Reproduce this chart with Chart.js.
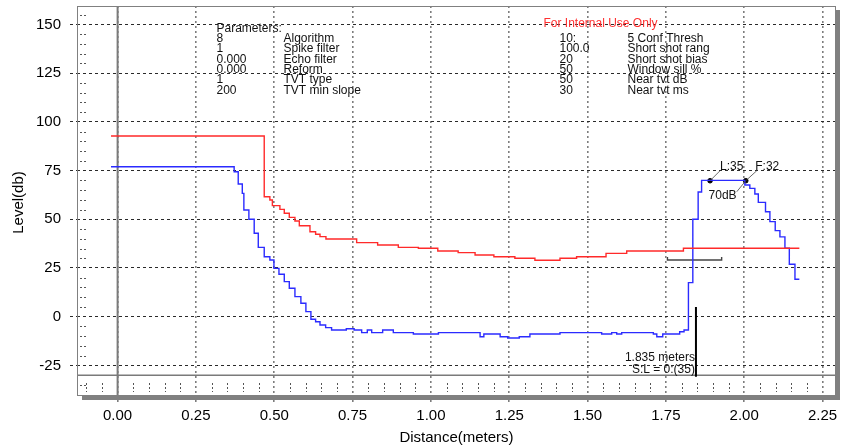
<!DOCTYPE html>
<html>
<head>
<meta charset="utf-8">
<script src="https://cdn.jsdelivr.net/npm/chart.js@4/dist/chart.umd.min.js"></script>
<style>
  html,body{margin:0;padding:0;background:#fff;}
  #wrap{width:841px;height:445px;}
</style>
</head>
<body>
<div id="wrap"><canvas id="c" width="841" height="445"></canvas></div>
<script>
// ---------- DATA (step profiles: each point = start of a level) ----------
const tvtX = [-0.021,0.468,0.486,0.494,0.518,0.532,0.548,0.566,0.580,0.614,0.632,0.646,0.665,0.763,0.830,0.896,0.960,1.022,1.087,1.141,1.201,1.268,1.332,1.412,1.465,1.559,1.625,1.806,2.176];
const tvtY = [92.8,61.6,59.9,57.0,55.1,53.1,51.0,49.1,46.7,43.6,42.3,41.1,39.9,38.0,36.8,35.6,35.1,33.7,32.9,31.7,30.8,30.0,29.0,30.0,30.8,32.5,33.7,35.1,35.1];

const echoX = [-0.021,0.372,0.385,0.398,0.403,0.419,0.436,0.449,0.468,0.486,0.499,0.515,0.532,0.548,0.566,0.585,0.601,0.617,0.632,0.646,0.664,0.683,0.730,0.755,0.779,0.797,0.811,0.846,0.880,0.944,1.024,1.157,1.169,1.221,1.245,1.282,1.316,1.412,1.545,1.577,1.593,1.609,1.710,1.721,1.740,1.794,1.808,1.822,1.836,1.853,1.864,2.002,2.018,2.034,2.045,2.068,2.082,2.099,2.114,2.130,2.144,2.162,2.176];
const echoY = [77.0,74.4,68.1,63.3,54.8,50.0,42.8,35.6,30.8,29.1,24.8,21.8,18.0,14.6,10.3,6.9,2.6,-1.3,-2.6,-4.3,-5.6,-6.8,-6.2,-6.8,-8.2,-6.8,-8.2,-6.8,-8.2,-8.9,-8.2,-10.3,-8.9,-10.3,-10.9,-10.3,-8.9,-8.2,-8.9,-8.2,-8.9,-8.2,-8.9,-10.3,-8.9,-7.7,-6.8,17.5,50.0,64.0,70.0,67.6,65.9,63.0,58.7,53.9,48.8,44.2,41.0,35.1,26.9,19.2,19.2];

// Echo markers (leading / falling edge)
const markerLabels = ['L:35','F:32'];
const markerX = [1.891, 2.005];
const markerY = [69.8, 69.8];
const echoLevelLabel = '70dB';

// Selected distance marker
const selX = 1.846;
const selTop = 5;
const selBottom = -30.8;
const selText = ['1.835 meters', 'S:L = 0:(35)'];

// Window bracket
const bracketX = [1.755, 1.928];
const bracketY = 29.1;

// Axis ticks
const xTicks = [0, 0.25, 0.5, 0.75, 1.0, 1.25, 1.5, 1.75, 2.0, 2.25];
const yTicks = [-25, 0, 25, 50, 75, 100, 125, 150];
const xMin = -0.1296, xMax = 2.293;
const yMin = -40.2, yMax = 159.5;
const baseLineY = -30;

// Parameter text
const paramTitle = 'Parameters:';
const paramValues = ['8','1','0.000','0.000','1','200'];
const paramNames = ['Algorithm','Spike filter','Echo filter','Reform','TVT type','TVT min slope'];
const internalTitle = 'For Internal Use Only';
const internalValues = ['10:','100.0','20','50','50','30'];
const internalNames = ['5 Conf Thresh','Short shot rang','Short shot bias','Window sill %','Near tvt dB','Near tvt ms'];

const xTitle = 'Distance(meters)';
const yTitle = 'Level(db)';

// ---------- CHART ----------
const FONT = '"Liberation Sans", Arial, sans-serif';
const zip = (xs, ys) => xs.map((x, i) => ({x, y: ys[i]}));

const decor = {
  id: 'decor',
  beforeDatasetsDraw(chart) {
    const {ctx, chartArea: a, scales: {x, y}} = chart;
    ctx.save();
    // minor y ticks
    ctx.strokeStyle = '#555'; ctx.lineWidth = 1; ctx.setLineDash([2,2]);
    for (let v = -40; v <= 155; v += 5) {
      if (v % 25 === 0) continue;
      const py = Math.round(y.getPixelForValue(v)) + 0.5;
      if (py < a.top || py > a.bottom) continue;
      ctx.beginPath(); ctx.moveTo(a.left + 3, py); ctx.lineTo(a.left + 11, py); ctx.stroke();
    }
    // minor x ticks
    for (let i = -2; i <= 45; i++) {
      const v = i * 0.05;
      if (i % 5 === 0) continue;
      const px = Math.round(x.getPixelForValue(v)) + 0.5;
      if (px < a.left || px > a.right) continue;
      ctx.beginPath(); ctx.moveTo(px, a.bottom - 12); ctx.lineTo(px, a.bottom - 3); ctx.stroke();
    }
    ctx.setLineDash([]);
    // base line (y = -30) and zero line (x = 0)
    ctx.strokeStyle = '#7a7a7a';
    ctx.lineWidth = 1.5;
    const by = y.getPixelForValue(baseLineY);
    ctx.beginPath(); ctx.moveTo(a.left, by); ctx.lineTo(a.right, by); ctx.stroke();
    ctx.lineWidth = 2;
    const zx = x.getPixelForValue(0);
    ctx.beginPath(); ctx.moveTo(zx, a.top); ctx.lineTo(zx, a.bottom); ctx.stroke();
    // frame + shadow
    ctx.fillStyle = '#808080';
    ctx.fillRect(a.right, a.top + 4, 4, a.bottom - a.top);
    ctx.fillRect(a.left + 5, a.bottom, a.right - a.left - 1, 5);
    ctx.strokeStyle = '#808080'; ctx.lineWidth = 1;
    ctx.strokeRect(a.left + 0.5, a.top + 0.5, a.right - a.left - 1, a.bottom - a.top);
    ctx.restore();
  },
  afterDatasetsDraw(chart) {
    const {ctx, chartArea: a, scales: {x, y}} = chart;
    ctx.save();
    ctx.font = '12px ' + FONT;
    ctx.textBaseline = 'middle';
    // parameter text block
    const lh = 10.3, y0 = a.top + 22.5;
    ctx.fillStyle = '#111';
    ctx.textAlign = 'left';
    ctx.fillText(paramTitle, 216.5, y0);
    paramValues.forEach((t, i) => ctx.fillText(t, 216.5, y0 + (i + 1) * lh));
    paramNames.forEach((t, i) => ctx.fillText(t, 283.5, y0 + (i + 1) * lh));
    internalValues.forEach((t, i) => ctx.fillText(t, 559.5, y0 + (i + 1) * lh));
    internalNames.forEach((t, i) => ctx.fillText(t, 627.5, y0 + (i + 1) * lh));
    ctx.fillStyle = '#ff3030';
    ctx.fillText(internalTitle, 543.5, a.top + 17.5);

    // marker leaders and labels
    ctx.strokeStyle = '#444'; ctx.lineWidth = 0.8;
    const lp = {x: x.getPixelForValue(markerX[0]), y: y.getPixelForValue(markerY[0])};
    const fp = {x: x.getPixelForValue(markerX[1]), y: y.getPixelForValue(markerY[1])};
    ctx.beginPath(); ctx.moveTo(lp.x, lp.y); ctx.lineTo(lp.x + 10, lp.y - 10); ctx.stroke();
    ctx.beginPath(); ctx.moveTo(fp.x, fp.y); ctx.lineTo(fp.x + 11, fp.y - 10); ctx.stroke();
    ctx.beginPath(); ctx.moveTo(fp.x, fp.y); ctx.lineTo(fp.x - 9, fp.y + 11); ctx.stroke();
    ctx.fillStyle = '#111';
    ctx.textAlign = 'left';
    ctx.fillText(markerLabels[0], lp.x + 10, lp.y - 14.5);
    ctx.fillText(markerLabels[1], fp.x + 9.5, fp.y - 14.5);
    ctx.fillText(echoLevelLabel, lp.x - 1.5, lp.y + 15);

    // selected distance text
    ctx.textAlign = 'right';
    const sx = x.getPixelForValue(selX) - 1;
    ctx.fillText(selText[0], sx, y.getPixelForValue(-21.3));
    ctx.fillText(selText[1], sx, y.getPixelForValue(-27.2));

    // axis titles
    ctx.fillStyle = '#000';
    ctx.font = '15px ' + FONT;
    ctx.textAlign = 'center';
    ctx.fillText(xTitle, (a.left + a.right) / 2, 437.5);
    ctx.translate(19, (a.top + a.bottom) / 2 + 2);
    ctx.rotate(-Math.PI / 2);
    ctx.fillText(yTitle, 0, 0);
    ctx.restore();
  }
};

new Chart(document.getElementById('c'), {
  type: 'line',
  data: {
    datasets: [
      {
        label: 'TVT',
        data: zip(tvtX, tvtY),
        borderColor: '#ff2a2a', borderWidth: 1.4, stepped: true,
        pointRadius: 0, fill: false
      },
      {
        label: 'Echo',
        data: zip(echoX, echoY),
        borderColor: '#2b2bff', borderWidth: 1.4, stepped: true,
        pointRadius: 0, fill: false
      },
      {
        label: 'Window',
        data: [{x: bracketX[0], y: bracketY + 1.6}, {x: bracketX[0], y: bracketY}, {x: bracketX[1], y: bracketY}, {x: bracketX[1], y: bracketY + 1.6}],
        borderColor: '#444', borderWidth: 1.4, pointRadius: 0, fill: false
      },
      {
        label: 'Selected',
        data: [{x: selX, y: selTop}, {x: selX, y: selBottom}],
        borderColor: '#000', borderWidth: 2, pointRadius: 0, fill: false
      },
      {
        label: 'Markers',
        data: zip(markerX, markerY),
        showLine: false, pointRadius: 2.3, pointBackgroundColor: '#000', pointBorderColor: '#000'
      }
    ]
  },
  options: {
    responsive: false,
    animation: false,
    layout: {padding: {top: 6, right: 5, left: 0, bottom: 0}},
    plugins: {legend: {display: false}, tooltip: {enabled: false}},
    scales: {
      x: {
        type: 'linear', min: xMin, max: xMax,
        afterBuildTicks: s => { s.ticks = xTicks.map(v => ({value: v})); },
        ticks: {
          autoSkip: false, maxRotation: 0,
          callback: v => Number(v).toFixed(2),
          font: {family: FONT, size: 15}, color: '#000', padding: 3
        },
        grid: {color: '#7d7d7d', lineWidth: 1.6, tickLength: 9, tickColor: '#7d7d7d', tickWidth: 1.6, tickBorderDash: [2,3]},
        border: {display: false, dash: [2,3]},
        afterFit: s => { s.height = 50; s.paddingLeft = 0; s.paddingRight = 0; }
      },
      y: {
        type: 'linear', min: yMin, max: yMax,
        afterBuildTicks: s => { s.ticks = yTicks.map(v => ({value: v})); },
        ticks: {
          autoSkip: false,
          callback: v => String(v),
          font: {family: FONT, size: 15}, color: '#000', padding: 9
        },
        grid: {color: '#2a2a2a', lineWidth: 1, tickLength: 7, tickColor: '#2a2a2a', tickBorderDash: [3,3]},
        border: {display: false, dash: [3,3]},
        afterFit: s => { s.width = 77; s.paddingTop = 0; s.paddingBottom = 0; }
      }
    }
  },
  plugins: [decor]
});
</script>
</body>
</html>
